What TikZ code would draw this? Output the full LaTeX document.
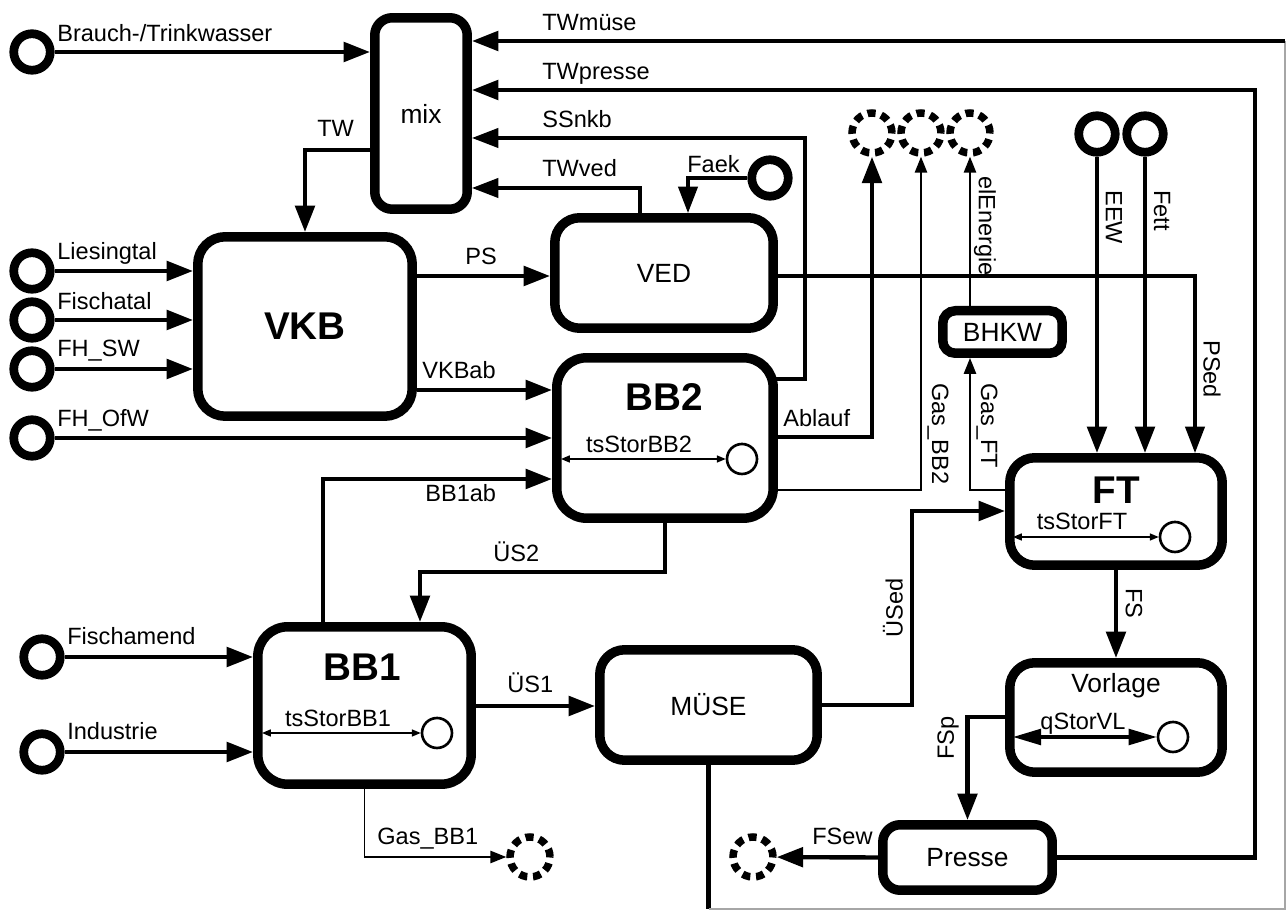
\documentclass[tikz,border=0pt]{standalone}
\usepackage{fontspec}
\setmainfont{Liberation Sans}
\usetikzlibrary{arrows.meta}
\tikzset{
  box/.style={draw, line width=0.19cm, rounded corners=#1, inner sep=0pt, font=\fontsize{15}{17}\selectfont},
  src/.style={circle, draw, line width=0.175cm, minimum size=0.73cm, inner sep=0pt},
  snk/.style={circle, draw, line width=0.15cm, minimum size=0.8cm, inner sep=0pt, dash pattern=on 4.6pt off 3.3pt},
  stor/.style={circle, draw, line width=1.5pt, minimum size=0.6cm, inner sep=0pt},
  flow/.style={line width=2.5pt, -{Triangle[length=15pt,width=11pt]}},
  flowm/.style={line width=1.8pt, -{Triangle[length=15pt,width=11pt]}},
  gasline/.style={line width=0.8pt, -{Triangle[length=9pt,width=7pt]}},
  storarrow/.style={line width=0.7pt, {Triangle[length=5pt,width=4pt]}-{Triangle[length=5pt,width=4pt]}},
  lbl/.style={font=\fontsize{13.4}{15}\selectfont, inner sep=0pt},
  boxtitle/.style={font=\fontsize{22}{24}\selectfont\bfseries, inner sep=0pt},
  boxname/.style={font=\fontsize{15}{17}\selectfont, inner sep=0pt},
}
\begin{document}
\begin{tikzpicture}[x=0.02cm, y=-0.02cm]
\useasboundingbox (0,0) rectangle (1286,911);

% boxes
\node[box=0.35cm, minimum width=1.85cm, minimum height=3.83cm] (mix) at (421,113.5) {mix};
\node[box=0.55cm, minimum width=4.29cm, minimum height=3.59cm, font=\fontsize{22}{24}\selectfont\bfseries] (VKB) at (305,326.5) {VKB};
\node[box=0.5cm, minimum width=4.37cm, minimum height=2.21cm] (VED) at (664,273) {VED};
\node[box=0.6cm, minimum width=4.33cm, minimum height=3.21cm] (BB2) at (665,438) {};
\node[box=0.6cm, minimum width=4.27cm, minimum height=3.15cm] (BB1) at (364.5,705.5) {};
\node[box=0.5cm, minimum width=4.35cm, minimum height=2.21cm] (MUSE) at (708.5,705) {MÜSE};
\node[box=0.25cm, minimum width=2.39cm, minimum height=0.85cm] (BHKW) at (1002.5,332) {BHKW};
\node[box=0.5cm, minimum width=4.25cm, minimum height=2.15cm] (FT) at (1116,511.5) {};
\node[box=0.5cm, minimum width=4.25cm, minimum height=2.19cm] (Vorlage) at (1116,717.5) {};
\node[box=0.35cm, minimum width=3.39cm, minimum height=1.31cm] (Presse) at (967.5,857.5) {Presse};

% box inner contents
\node[boxtitle] (tBB2) at (664,397) {BB2};
\node[lbl, anchor=base] (lBB2) at (639,453) {tsStorBB2};
\node[stor] (cBB2) at (742,459) {};
\coordinate (iBB2) at (561,459);
\draw[storarrow] (iBB2) -- (cBB2);

\node[boxtitle] (tBB1) at (362,667) {BB1};
\node[lbl, anchor=base] (lBB1) at (338,727) {tsStorBB1};
\node[stor] (cBB1) at (437,733) {};
\coordinate (iBB1) at (262,733);
\draw[storarrow] (iBB1) -- (cBB1);

\node[boxtitle] (tFT) at (1116,490) {FT};
\node[lbl, anchor=base] (lFT) at (1082,530) {tsStorFT};
\node[stor] (cFT) at (1175,537) {};
\coordinate (iFT) at (1013,537);
\draw[storarrow] (iFT) -- (cFT);

\node[boxname] (tVL) at (1116,686) {Vorlage};
\node[lbl, anchor=base] (lVL) at (1083,730) {qStorVL};
\node[stor] (cVL) at (1173,737) {};
\coordinate (iVL) at (1013,737);
\draw[line width=1.8pt, {Triangle[length=16pt,width=9pt]}-{Triangle[length=16pt,width=9pt]}] (iVL) -- (cVL);

% sources
\node[src] (sBrauch) at (32,52) {};
\node[src] (sLies) at (32,271) {};
\node[src] (sFisch) at (32,320) {};
\node[src] (sFHSW) at (32,369) {};
\node[src] (sOfW) at (32,438) {};
\node[src] (sFam) at (42,657) {};
\node[src] (sInd) at (42,752) {};
\node[src] (sFaek) at (770,178) {};
\node[src] (sEEW) at (1097,134) {};
\node[src] (sFett) at (1145,134) {};

% sinks
\node[snk] (k1) at (872,133) {};
\node[snk] (k2) at (921,133) {};
\node[snk] (k3) at (970,133) {};
\node[snk] (k4) at (530,857) {};
\node[snk] (k5) at (753,857) {};

% coordinates for routes
\coordinate (cTWm1) at (708.5,909);
\coordinate (cTWm2) at (1285,909);
\coordinate (cTWm3) at (1285,41);
\coordinate (cTWp) at (1255,90);
\coordinate (cSS) at (805,138);
\coordinate (cUS2) at (420,572);
\coordinate (cBB1ab) at (323,479);
\coordinate (cUSed) at (912,511);

% connectors
\draw[flow] (sBrauch) -- (sBrauch -| mix.west);
\draw[flow] (mix.west |- 0,150) -| (VKB.north);
\draw[flow] (sLies) -- (sLies -| VKB.west);
\draw[flow] (sFisch) -- (sFisch -| VKB.west);
\draw[flow] (sFHSW) -- (sFHSW -| VKB.west);
\draw[flow] (sOfW) -- (sOfW -| BB2.west);
\draw[flow] (sFam) -- (sFam -| BB1.west);
\draw[flow] (sInd) -- (sInd -| BB1.west);

\draw[line width=2.5pt] (MUSE.south) -- (cTWm1);
\draw[gray!70, line width=0.6pt] (cTWm1) -- (cTWm2) -- (cTWm3);
\draw[flow] (cTWm3) -- (cTWm3 -| mix.east);
\draw[flow] (Presse.east) -| (cTWp) -- (cTWp -| mix.east);
\draw[flowm] (775,379) -| (cSS) -- (cSS -| mix.east);
\draw[flowm] (VED.north -| 640,0) |- (mix.east |- 0,188);
\draw[flowm] (sFaek) -| (VED.north -| 688,0);

\draw[flow] (VKB.east |- 0,276) -- (VED.west |- 0,276);
\draw[flowm] (VED.east |- 0,276) -| (FT.north -| 1195,0);
\draw[flow] (VKB.east |- 0,390) -- (BB2.west |- 0,390);
\draw[flow] (BB1.north -| cBB1ab) |- (BB2.west |- cBB1ab);
\draw[flow] (BB2.south) |- (cUS2) -- (cUS2 |- BB1.north);
\draw[flow] (BB1.east |- 0,706) -- (MUSE.west |- 0,706);
\draw[flow] (MUSE.east) -| (cUSed) -- (cUSed -| FT.west);

\draw[flow] (BB2.east |- 0,437) -| (k1);
\draw[gasline] (BB2.east |- 0,490) -| (k2);
\draw[gasline] (BHKW.north -| k3) -- (k3);
\draw[gasline] (FT.west |- 0,490) -| (BHKW.south -| k3);
\draw[flow] (sEEW) -- (sEEW |- FT.north);
\draw[flow] (sFett) -- (sFett |- FT.north);
\draw[flow] (FT.south) -- (Vorlage.north);
\draw[flow] (Vorlage.west |- 0,717) -| (Presse.north);
\draw[flow] (Presse.west) -- (k5);
\draw[gasline] (BB1.south) |- (k4);

% labels
\node[lbl, anchor=base west] (nBrauch) at (57,42) {Brauch-/Trinkwasser};
\node[lbl, anchor=base west] (nTW) at (317,137) {TW};
\node[lbl, anchor=base west] (nLies) at (57,260) {Liesingtal};
\node[lbl, anchor=base west] (nFisch) at (57,310) {Fischatal};
\node[lbl, anchor=base west] (nFHSW) at (57,357) {FH\_SW};
\node[lbl, anchor=base west] (nOfW) at (57,427) {FH\_OfW};
\node[lbl, anchor=base west] (nFam) at (67,645) {Fischamend};
\node[lbl, anchor=base west] (nInd) at (67,740) {Industrie};
\node[lbl, anchor=base west] (nTWm) at (542,31) {TWmüse};
\node[lbl, anchor=base west] (nTWp) at (542,80) {TWpresse};
\node[lbl, anchor=base west] (nSS) at (542,128) {SSnkb};
\node[lbl, anchor=base west] (nTWv) at (542,177) {TWved};
\node[lbl, anchor=base west] (nFaek) at (687,173) {Faek};
\node[lbl, anchor=base west] (nPS) at (465,265) {PS};
\node[lbl, anchor=base west] (nVKBab) at (422,379) {VKBab};
\node[lbl, anchor=base west] (nBB1ab) at (425,502) {BB1ab};
\node[lbl, anchor=base west] (nUS2) at (493,562) {ÜS2};
\node[lbl, anchor=base west] (nAbl) at (783,427) {Ablauf};
\node[lbl, anchor=base west] (nUS1) at (507,693) {ÜS1};
\node[lbl, anchor=base west] (nGBB1) at (377,845) {Gas\_BB1};
\node[lbl, anchor=base west] (nFSew) at (812,845) {FSew};
\node[lbl, rotate=-90, anchor=west] (nEl) at (985,176) {elEnergie};
\node[lbl, rotate=-90, anchor=west] (nEEW) at (1114,190) {EEW};
\node[lbl, rotate=-90, anchor=west] (nFett) at (1162,190) {Fett};
\node[lbl, rotate=-90, anchor=west] (nPSed) at (1212,340) {PSed};
\node[lbl, rotate=-90, anchor=west] (nGBB2) at (938,383) {Gas\_BB2};
\node[lbl, rotate=-90, anchor=west] (nGFT) at (987,383) {Gas\_FT};
\node[lbl, rotate=-90, anchor=west] (nFS) at (1134,588) {FS};
\node[lbl, rotate=90, anchor=west] (nUSed) at (893,638) {ÜSed};
\node[lbl, rotate=90, anchor=west] (nFSp) at (948,760) {FSp};
\end{tikzpicture}
\end{document}
